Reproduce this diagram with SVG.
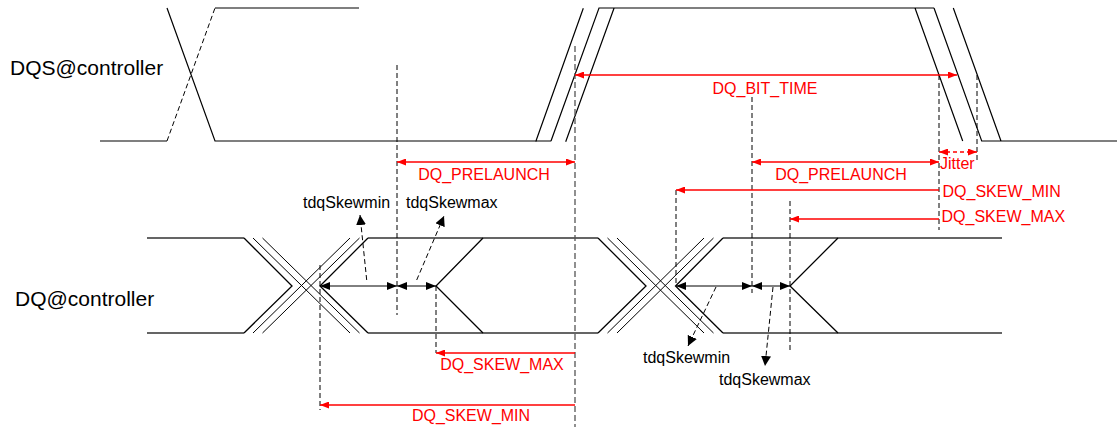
<svg xmlns="http://www.w3.org/2000/svg" width="1117" height="429" viewBox="0 0 1117 429">
<defs>
<style>
.sig{fill:none;stroke:#000;stroke-width:1.2}
.edge{fill:none;stroke:#000;stroke-width:1.3}
.thin{fill:none;stroke:#000;stroke-width:1}
.bus{fill:none;stroke:#333;stroke-width:1.5}
.vd{fill:none;stroke:#000;stroke-width:1;stroke-dasharray:5,3}
.vg{fill:none;stroke:#555;stroke-width:1.3;stroke-dasharray:6,3}
.red{fill:none;stroke:#ff0000;stroke-width:1.3}
.redd{fill:none;stroke:#ff0000;stroke-width:1.3;stroke-dasharray:4,3}
.blk{fill:none;stroke:#000;stroke-width:1}
.callout{fill:none;stroke:#000;stroke-width:1;stroke-dasharray:5,3}
.lbl{font-family:"Liberation Sans",Arial,sans-serif;font-size:21px;fill:#000}
.sm{font-family:"Liberation Sans",Arial,sans-serif;font-size:16px;fill:#000}
.rt{font-family:"Liberation Sans",Arial,sans-serif;font-size:16px;fill:#ff0000}
</style>
<marker id="ar" viewBox="0 0 9 7" refX="9" refY="3.5" markerWidth="9" markerHeight="7" markerUnits="userSpaceOnUse" orient="auto-start-reverse"><path d="M0,0 L9,3.5 L0,7 z" fill="#ff0000"/></marker>
<marker id="ab" viewBox="0 0 10 8" refX="10" refY="4" markerWidth="10" markerHeight="8" markerUnits="userSpaceOnUse" orient="auto-start-reverse"><path d="M0,0 L10,4 L0,8 z" fill="#000"/></marker>
<marker id="ac" viewBox="0 0 10 10" refX="10" refY="5" markerWidth="10" markerHeight="10" markerUnits="userSpaceOnUse" orient="auto"><path d="M0,0 L10,5 L0,10 z" fill="#000"/></marker>
</defs>

<g id="labels">
<text class="lbl" x="10" y="75">DQS@controller</text>
<text class="lbl" x="15" y="306">DQ@controller</text>
</g>

<g id="dqs-signal">
<path class="sig" d="M100,141 H167 M167,8 L215,141 H551 M215,8 H359 M535.7,141.7 L583.3,8.3 M551,141 L599,8 H934 M565.7,141.7 L614,8.3 M915,8 L962.7,141 M934,8 L981.7,141 H1117 M953.3,8 L1001,141"/>
<path class="vd" d="M167,141 L215,8"/>
</g>

<g id="dq-signal">
<path class="bus" d="M147,238 H244 M147,333 H244 M368,238 H598 M368,333 H598 M723,238 H1002 M723,333 H1002"/>
<path class="edge" d="M244,238 L292,286 L244,333 M368,238 L320,286 L368,333 M483,238 L436,286 L483,333 M598,238 L646,286 L598,333 M723,238 L675.5,286 L723,333 M838,238 L790,286 L838,333"/>
<path class="thin" d="M253,238 L350,333 M262.5,238 L359.5,333 M253,333 L350,238 M262.5,333 L359.5,238 M607.5,238 L704,333 M617,238 L713.5,333 M607.5,333 L704,238 M617,333 L713.5,238"/>
</g>

<g id="connectors">
<path class="vd" d="M397,65 V315 M320,265 V410 M436,286 V353 M752,97 V293 M790,201 V353 M676,190 V286 M939,75 V230 M977,75 V160"/>
<path class="vg" d="M575,46 V427"/>
<line class="red" x1="575" y1="75" x2="957" y2="75" marker-start="url(#ar)" marker-end="url(#ar)"/>
<line class="red" x1="397" y1="162" x2="575" y2="162" marker-start="url(#ar)" marker-end="url(#ar)"/>
<line class="redd" x1="939" y1="152" x2="977" y2="152" marker-start="url(#ar)" marker-end="url(#ar)"/>
<line class="red" x1="752" y1="162" x2="939" y2="162" marker-start="url(#ar)" marker-end="url(#ar)"/>
<line class="red" x1="939" y1="190" x2="676" y2="190" marker-end="url(#ar)"/>
<line class="red" x1="939" y1="219" x2="790" y2="219" marker-end="url(#ar)"/>
<line class="red" x1="575" y1="353" x2="436" y2="353" marker-end="url(#ar)"/>
<line class="red" x1="575" y1="405" x2="320" y2="405" marker-end="url(#ar)"/>
<line class="blk" x1="320" y1="286" x2="397" y2="286" marker-start="url(#ab)" marker-end="url(#ab)"/>
<line class="blk" x1="397" y1="286" x2="436" y2="286" marker-start="url(#ab)" marker-end="url(#ab)"/>
<line class="blk" x1="676" y1="286" x2="752" y2="286" marker-start="url(#ab)" marker-end="url(#ab)"/>
<line class="blk" x1="752" y1="286" x2="790" y2="286" marker-start="url(#ab)" marker-end="url(#ab)"/>
<line class="callout" x1="366.7" y1="280" x2="360" y2="215" marker-end="url(#ac)"/>
<line class="callout" x1="416.7" y1="280" x2="444" y2="216" marker-end="url(#ac)"/>
<line class="callout" x1="716" y1="287" x2="688" y2="346" marker-end="url(#ac)"/>
<line class="callout" x1="773" y1="287" x2="765" y2="366" marker-end="url(#ac)"/>
</g>

<g id="annotations">
<text class="rt" x="765" y="94" text-anchor="middle">DQ_BIT_TIME</text>
<text class="rt" x="484" y="180" text-anchor="middle">DQ_PRELAUNCH</text>
<text class="rt" x="841" y="179.5" text-anchor="middle">DQ_PRELAUNCH</text>
<text class="rt" x="940" y="169">Jitter</text>
<text class="rt" x="942.5" y="196.5">DQ_SKEW_MIN</text>
<text class="rt" x="941.5" y="222">DQ_SKEW_MAX</text>
<text class="rt" x="502" y="370" text-anchor="middle">DQ_SKEW_MAX</text>
<text class="rt" x="471" y="420.5" text-anchor="middle">DQ_SKEW_MIN</text>
<text class="sm" x="303" y="208">tdqSkewmin</text>
<text class="sm" x="406" y="208">tdqSkewmax</text>
<text class="sm" x="643" y="362.5">tdqSkewmin</text>
<text class="sm" x="719" y="385">tdqSkewmax</text>
</g>
</svg>
